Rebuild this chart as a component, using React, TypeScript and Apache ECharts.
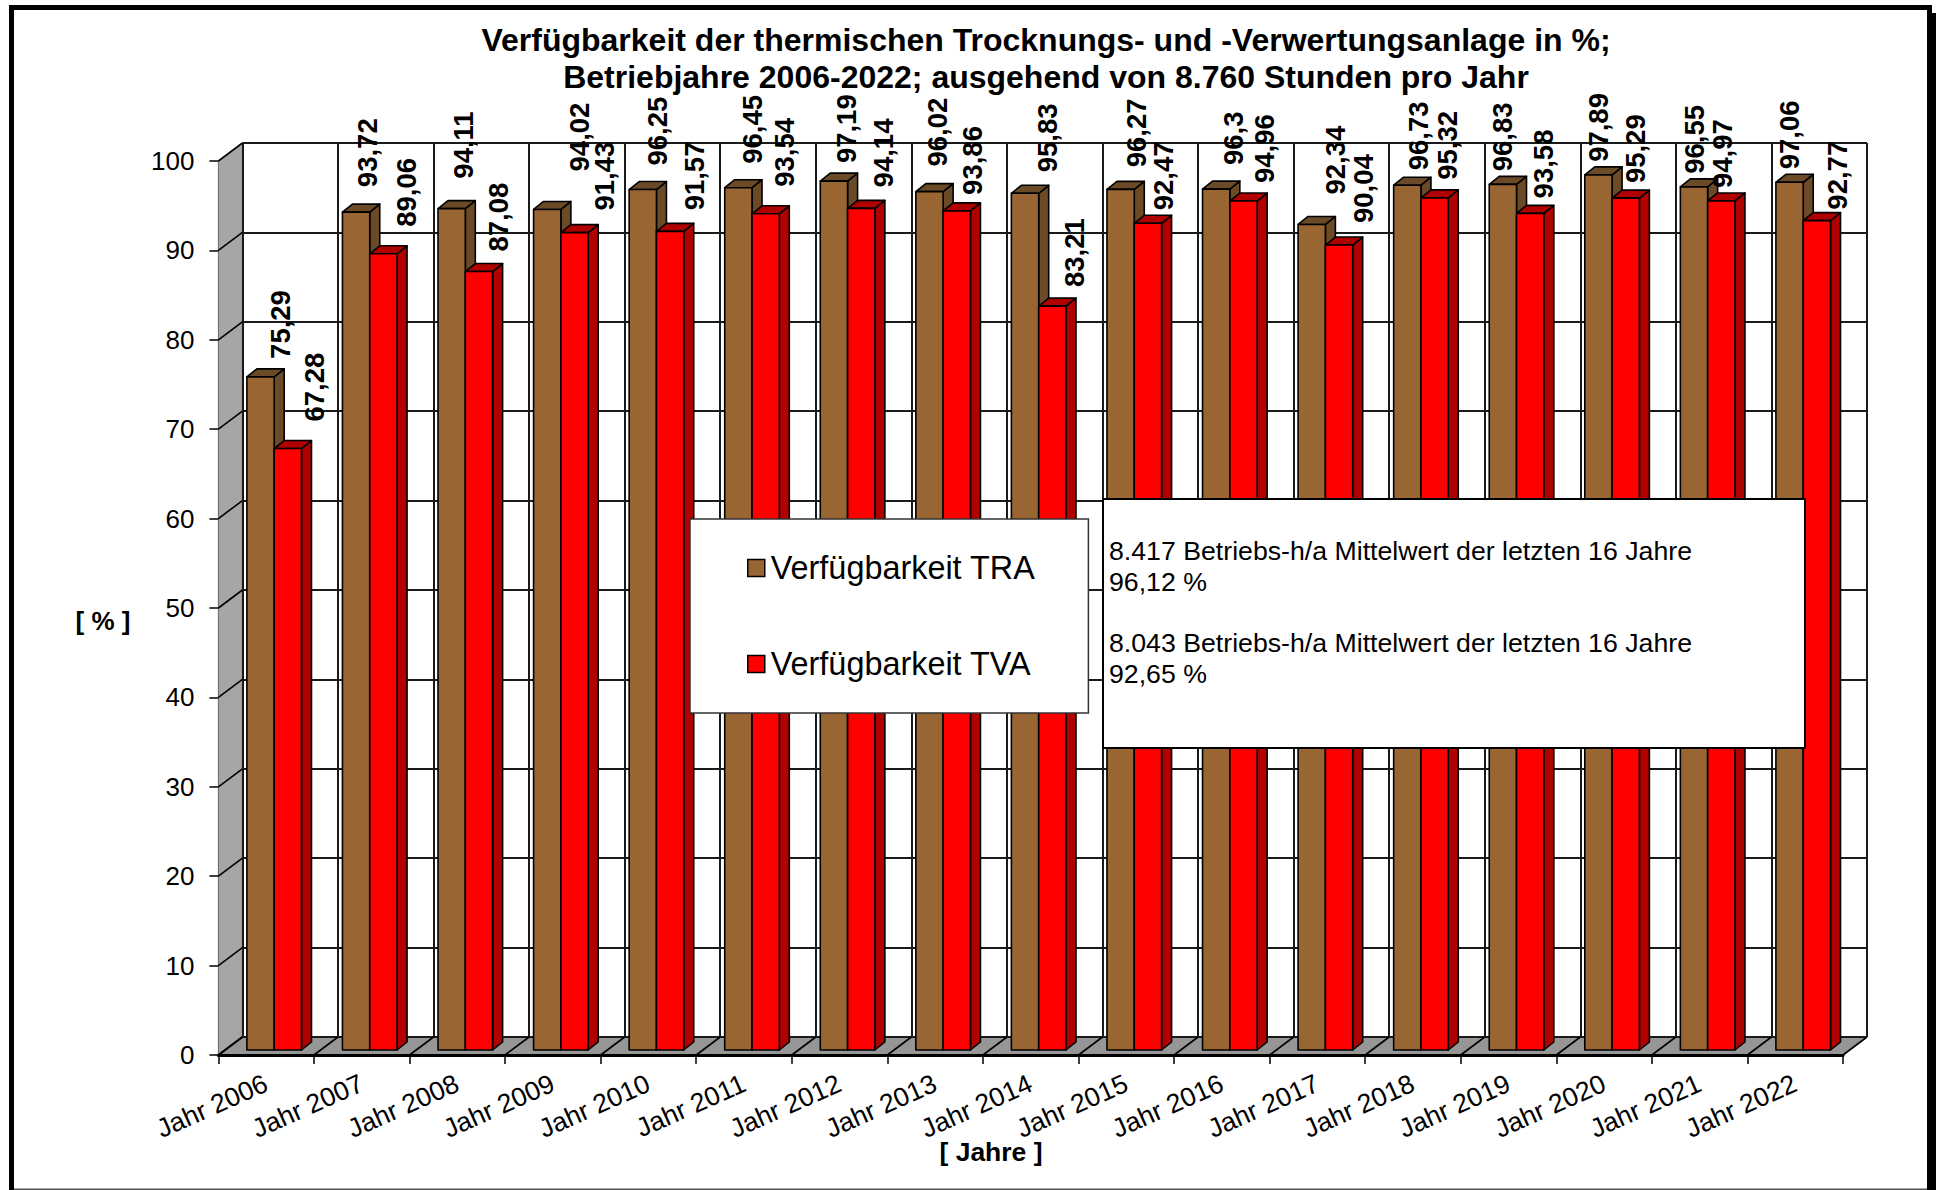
import React, { useEffect, useRef } from "react";
import * as echarts from "echarts";

const years = ["Jahr 2006","Jahr 2007","Jahr 2008","Jahr 2009","Jahr 2010","Jahr 2011","Jahr 2012","Jahr 2013","Jahr 2014","Jahr 2015","Jahr 2016","Jahr 2017","Jahr 2018","Jahr 2019","Jahr 2020","Jahr 2021","Jahr 2022"];
const traValues = [75.29,93.72,94.11,94.02,96.25,96.45,97.19,96.02,95.83,96.27,96.3,92.34,96.73,96.83,97.89,96.55,97.06];
const tvaValues = [67.28,89.06,87.08,91.43,91.57,93.54,94.14,93.86,83.21,92.47,94.96,90.04,95.32,93.58,95.29,94.97,92.77];
const yTicks = [0,10,20,30,40,50,60,70,80,90,100];

// hand-placed label offsets from each bar's top centre (px), as in the source chart
const traLabelDx = [20,11,12,32,15,14,13,8,22,16,17,24,11,0,0,0,0];
const traLabelGap = [21,28,33,41,27,27,21,28,24,25,27,33,18,16,16,16,16];
const tvaLabelDx = [27,23,20,30,24,19,22,16,22,16,21,24,13,13,10,1,21];
const tvaLabelGap = [30,30,23,25,24,30,24,19,22,16,21,25,21,18,18,16,14];

const FONT = "'Liberation Sans', Arial, sans-serif";
const FRONT = { left: 218.4, top: 161, width: 1624.6, height: 894 };
const BACK_DX = 24, BACK_DY = 18;
const BAR_DX = 8, BAR_DY = 5;
const BAR_W = 27.3, SIDE_DX = 10, SIDE_DY = 8;

function bar3d(front: string, dark: string, side: -1 | 1) {
  return (params: any, api: any) => {
    const i = api.value(0), v = api.value(1);
    const top = api.coord([i, v]);
    const base = api.coord([i, 0]);
    const x0 = side < 0 ? top[0] - BAR_W : top[0];
    const x1 = x0 + BAR_W;
    const y = top[1], yb = base[1];
    const st = { stroke: "#000", lineWidth: 1.6, lineJoin: "round" };
    return {
      type: "group",
      children: [
        { type: "polygon", shape: { points: [[x1, y], [x1 + SIDE_DX, y - SIDE_DY], [x1 + SIDE_DX, yb - SIDE_DY], [x1, yb]] }, style: { fill: dark, ...st } },
        { type: "polygon", shape: { points: [[x0, y], [x0 + SIDE_DX, y - SIDE_DY], [x1 + SIDE_DX, y - SIDE_DY], [x1, y]] }, style: { fill: dark, ...st } },
        { type: "rect", shape: { x: x0, y, width: BAR_W, height: yb - y }, style: { fill: front, ...st } },
      ],
    };
  };
}

function barLabel(side: -1 | 1, dxs: number[], gaps: number[]) {
  return (params: any, api: any) => {
    const i = api.value(0), v = api.value(1);
    const top = api.coord([i, v]);
    return {
      type: "text",
      x: top[0] + side * BAR_W / 2 + dxs[i],
      y: top[1] - gaps[i] + 3,
      rotation: Math.PI / 2,
      style: {
        text: String(v).replace(".", ","),
        font: `bold 27.5px ${FONT}`,
        fill: "#000",
        align: "left",
        verticalAlign: "middle",
      },
    };
  };
}

export default function App() {
  const ref = useRef<HTMLDivElement>(null);
  useEffect(() => {
    document.body.style.margin = "0";
    document.documentElement.style.overflow = "hidden";
    const chart = echarts.init(ref.current!, undefined, { renderer: "svg" });
    const traData = traValues.map((v, i) => [i, v]);
    const tvaData = tvaValues.map((v, i) => [i, v]);
    const hiddenAxisBits = { axisLine: { show: false }, axisTick: { show: false }, axisLabel: { show: false } };
    const gridLine = { show: true, lineStyle: { color: "#1a1a1a", width: 2 } };
    chart.setOption({
      animation: false,
      backgroundColor: "#fff",
      title: {
        text: "Verfügbarkeit der thermischen Trocknungs- und -Verwertungsanlage in %;\nBetriebjahre 2006-2022; ausgehend von 8.760 Stunden pro Jahr",
        left: 1041, top: 16, textAlign: "center",
        textStyle: { fontFamily: FONT, fontWeight: "bold", fontSize: 32, lineHeight: 37, color: "#000" },
      },
      legend: {
        data: ["Verfügbarkeit TRA", "Verfügbarkeit TVA"],
        orient: "vertical", left: 690, top: 519, z: 20,
        icon: "rect", itemWidth: 17, itemHeight: 17, itemGap: 64,
        padding: [33, 53, 33, 57],
        backgroundColor: "#fff", borderColor: "#333", borderWidth: 1.5,
        itemStyle: { borderColor: "#000", borderWidth: 1.5 },
        selectedMode: false,
        textStyle: { fontFamily: FONT, fontSize: 32.4, color: "#000", padding: [0, 0, 0, 1] },
      },
      grid: [
        { ...FRONT },
        { left: FRONT.left + BACK_DX, top: FRONT.top - BACK_DY, width: FRONT.width, height: FRONT.height },
        { left: FRONT.left + BAR_DX, top: FRONT.top - BAR_DY, width: FRONT.width, height: FRONT.height },
      ],
      xAxis: [
        {
          type: "category", gridIndex: 0, data: years, z: 4,
          axisLine: { lineStyle: { color: "#000", width: 3 } },
          axisTick: { show: true, alignWithLabel: false, length: 9, lineStyle: { color: "#000", width: 1.5 } },
          axisLabel: { interval: 0, rotate: 24, margin: 27, fontFamily: FONT, fontSize: 26.6, color: "#000" },
        },
        {
          type: "category", gridIndex: 1, data: years, z: 2, position: "bottom",
          ...hiddenAxisBits,
          splitLine: { ...gridLine, interval: 0 },
        },
        { type: "category", gridIndex: 2, data: years, ...hiddenAxisBits },
      ],
      yAxis: [
        {
          type: "value", gridIndex: 0, min: 0, max: 100, interval: 10, z: 4,
          axisLine: { show: false },
          axisTick: { show: true, length: 9, lineStyle: { color: "#000", width: 1.5 } },
          axisLabel: { margin: 24, fontFamily: FONT, fontSize: 26, color: "#000" },
          splitLine: { show: false },
        },
        {
          type: "value", gridIndex: 1, min: 0, max: 100, interval: 10, z: 2,
          ...hiddenAxisBits,
          splitLine: gridLine,
        },
        { type: "value", gridIndex: 2, min: 0, max: 100, interval: 10, ...hiddenAxisBits, splitLine: { show: false } },
      ],
      series: [
        {
          type: "custom", name: "walls", xAxisIndex: 0, yAxisIndex: 0, z: 1, silent: true,
          data: [[0, 0]],
          renderItem: (params: any) => {
            const c = params.coordSys;
            const b = c.y + c.height, r = c.x + c.width;
            return {
              type: "group",
              children: [
                { type: "polygon", shape: { points: [[c.x, c.y], [c.x + BACK_DX, c.y - BACK_DY], [c.x + BACK_DX, b - BACK_DY], [c.x, b]] }, style: { fill: "#a6a6a6", stroke: "#666", lineWidth: 1 } },
                { type: "polygon", shape: { points: [[c.x, b], [c.x + BACK_DX, b - BACK_DY], [r + BACK_DX, b - BACK_DY], [r, b]] }, style: { fill: "#969696", stroke: "#666", lineWidth: 1 } },
              ],
            };
          },
        },
        {
          type: "custom", name: "wallTicks", xAxisIndex: 0, yAxisIndex: 0, z: 3, silent: true,
          data: yTicks.map((t) => [0, t]),
          renderItem: (params: any, api: any) => {
            const c = params.coordSys;
            const y = api.coord([0, api.value(1)])[1];
            return { type: "line", shape: { x1: c.x, y1: y, x2: c.x + BACK_DX, y2: y - BACK_DY }, style: { stroke: "#000", lineWidth: 1.6 } };
          },
        },
        {
          type: "custom", name: "floorTicks", xAxisIndex: 0, yAxisIndex: 0, z: 3, silent: true,
          data: [...years.map((_, i) => [i, 0]), [years.length - 1, 0]],
          renderItem: (params: any, api: any) => {
            const c = params.coordSys;
            const band = c.width / years.length;
            const x = c.x + band * params.dataIndex;
            const b = c.y + c.height;
            return { type: "line", shape: { x1: x, y1: b, x2: x + BACK_DX, y2: b - BACK_DY }, style: { stroke: "#000", lineWidth: 1.6 } };
          },
        },
        {
          type: "custom", name: "Verfügbarkeit TRA", xAxisIndex: 2, yAxisIndex: 2, z: 5, silent: true,
          itemStyle: { color: "#996633" }, data: traData,
          renderItem: bar3d("#996633", "#6b4a28", -1),
        },
        {
          type: "custom", name: "Verfügbarkeit TVA", xAxisIndex: 2, yAxisIndex: 2, z: 5, silent: true,
          itemStyle: { color: "#ff0000" }, data: tvaData,
          renderItem: bar3d("#ff0000", "#b00000", 1),
        },
        {
          type: "custom", name: "traLabels", xAxisIndex: 2, yAxisIndex: 2, z: 6, silent: true,
          data: traData, renderItem: barLabel(-1, traLabelDx, traLabelGap),
        },
        {
          type: "custom", name: "tvaLabels", xAxisIndex: 2, yAxisIndex: 2, z: 6, silent: true,
          data: tvaData, renderItem: barLabel(1, tvaLabelDx, tvaLabelGap),
        },
      ],
      graphic: [
        { type: "rect", z: 30, silent: true, shape: { x: 11.5, y: 7.5, width: 1918, height: 1190 }, style: { fill: "none", stroke: "#000", lineWidth: 5 } },
        { type: "rect", z: 30, silent: true, shape: { x: 1930, y: 13, width: 6, height: 1177 }, style: { fill: "#000" } },
        { type: "rect", z: 30, silent: true, shape: { x: 14, y: 1188.5, width: 1913, height: 1.5 }, style: { fill: "#555" } },
        { type: "rect", z: 30, silent: true, shape: { x: 1103, y: 499, width: 702, height: 249 }, style: { fill: "#fff", stroke: "#000", lineWidth: 2 } },
        { type: "text", z: 31, silent: true, x: 1109, y: 535, style: { text: "8.417 Betriebs-h/a Mittelwert der letzten 16 Jahre\n96,12 %", font: `26.7px ${FONT}`, lineHeight: 31, fill: "#000" } },
        { type: "text", z: 31, silent: true, x: 1109, y: 627, style: { text: "8.043 Betriebs-h/a Mittelwert der letzten 16 Jahre\n92,65 %", font: `26.7px ${FONT}`, lineHeight: 31, fill: "#000" } },
        { type: "text", z: 31, silent: true, x: 103, y: 621, style: { text: "[ % ]", font: `bold 26px ${FONT}`, fill: "#000", align: "center", verticalAlign: "middle" } },
        { type: "text", z: 31, silent: true, x: 991, y: 1152, style: { text: "[ Jahre ]", font: `bold 26.5px ${FONT}`, fill: "#000", align: "center", verticalAlign: "middle" } },
      ],
    });
    return () => chart.dispose();
  }, []);
  return <div ref={ref} style={{ position: "absolute", left: 0, top: 0, width: 1936, height: 1190 }} />;
}
